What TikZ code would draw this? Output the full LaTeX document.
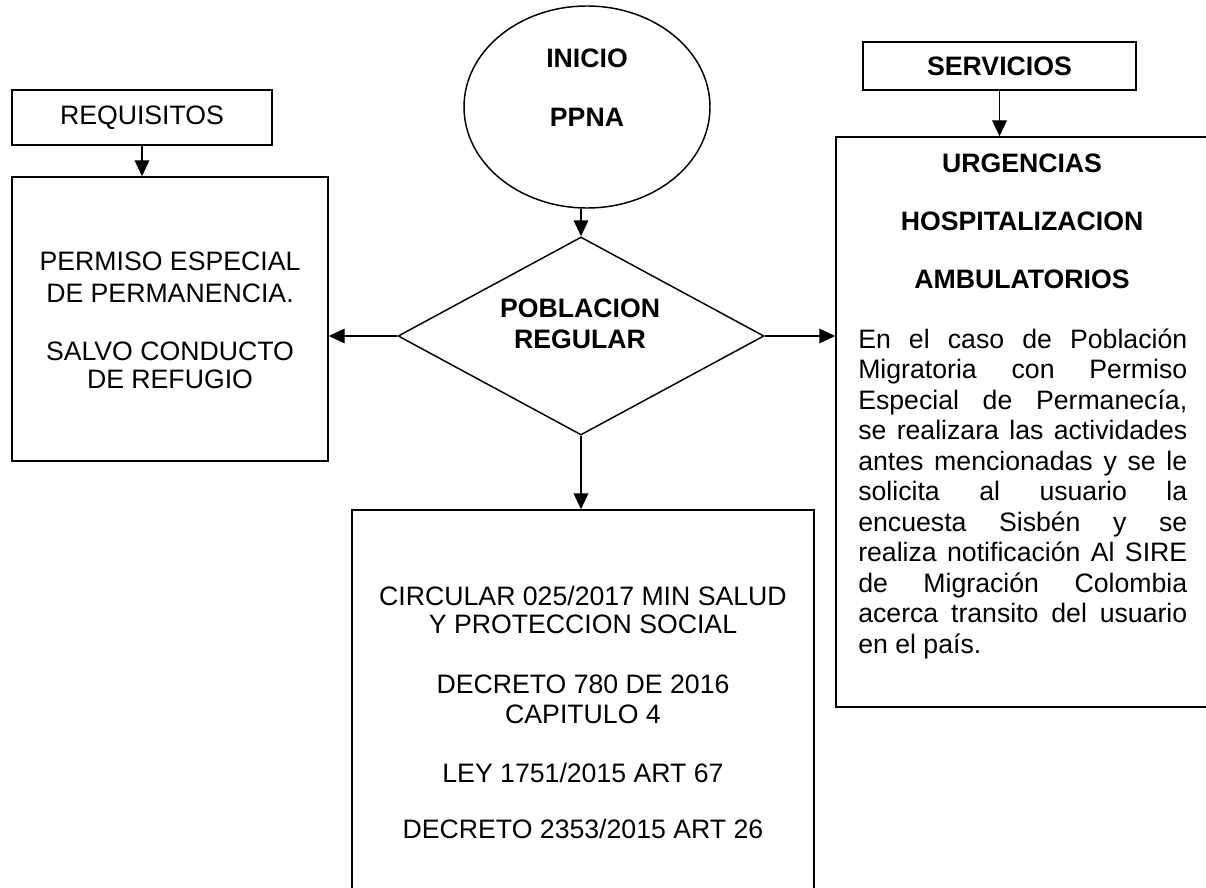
\documentclass[tikz,border=0pt]{standalone}
\usepackage{fontspec}
\setmainfont{Liberation Sans}
\usetikzlibrary{shapes.geometric,arrows.meta,fit}
\begin{document}
\begin{tikzpicture}[x=0.75pt,y=-0.75pt,
  every node/.style={font=\fontsize{20}{23}\selectfont},
  boxn/.style={draw, line width=1.1pt, inner sep=0pt, rectangle},
  txt/.style={inner sep=0pt, anchor=base},
  arr/.style={line width=1.1pt, -{Triangle[length=12pt,width=11pt]}}]
\useasboundingbox (0,0) rectangle (1206,888);
\clip (0,0) rectangle (1206,888);

% boxes
\coordinate (q1) at (12,90);   \coordinate (q2) at (272,145);
\node[boxn, fit=(q1)(q2)] (req) {};
\node[txt, anchor=center] (reqt) at (req.center) {REQUISITOS};

\coordinate (l1) at (12,177);  \coordinate (l2) at (328,461);
\node[boxn, fit=(l1)(l2)] (L) {};

\coordinate (s1) at (863,42);  \coordinate (s2) at (1136,90);
\node[boxn, fit=(s1)(s2)] (serv) {};
\node[txt, anchor=center, font=\fontsize{20}{23}\selectfont\bfseries] (servt) at (serv.center) {SERVICIOS};

\coordinate (r1) at (836,137); \coordinate (r2) at (1230,707);
\node[boxn, fit=(r1)(r2)] (R) {};

\coordinate (b1) at (352,510); \coordinate (b2) at (814,930);
\node[boxn, fit=(b1)(b2)] (B) {};

\node[draw, ellipse, line width=1.1pt, inner sep=0pt, minimum width=184.5pt, minimum height=151.5pt] (start) at (587,107) {};
\node[draw, diamond, line width=1.1pt, inner sep=0pt, minimum width=274.5pt, minimum height=148.5pt] (dia) at (581,336) {};

% texts
\node[txt, font=\fontsize{20}{23}\selectfont\bfseries] (ini1) at (587,68) {INICIO};
\node[txt, font=\fontsize{20}{23}\selectfont\bfseries] (ini2) at (587,127) {PPNA};
\node[txt, font=\fontsize{20}{23}\selectfont\bfseries] (dia1) at (580,317) {POBLACION};
\node[txt, font=\fontsize{20}{23}\selectfont\bfseries] (dia2) at (580,348) {REGULAR};

\node[txt] (lt1) at (170,270) {PERMISO ESPECIAL};
\node[txt] (lt2) at (170,302) {DE PERMANENCIA.};
\node[txt] (lt3) at (170,360) {SALVO CONDUCTO};
\node[txt] (lt4) at (170,388) {DE REFUGIO};

\node[txt] (bt1) at (583,605) {CIRCULAR 025/2017 MIN SALUD};
\node[txt] (bt2) at (583,633) {Y PROTECCION SOCIAL};
\node[txt] (bt3) at (583,693) {DECRETO 780 DE 2016};
\node[txt] (bt4) at (583,723) {CAPITULO 4};
\node[txt] (bt5) at (583,782) {LEY 1751/2015 ART 67};
\node[txt] (bt6) at (583,838) {DECRETO 2353/2015 ART 26};

\node[txt, font=\fontsize{20}{23}\selectfont\bfseries] (rt1) at (1022,173) {URGENCIAS};
\node[txt, font=\fontsize{20}{23}\selectfont\bfseries] (rt2) at (1022,230) {HOSPITALIZACION};
\node[txt, font=\fontsize{20}{23}\selectfont\bfseries] (rt3) at (1022,288) {AMBULATORIOS};

\foreach \t [count=\i] in {{En el caso de Población},{Migratoria con Permiso},{Especial de Permanecía,},{se realizara las actividades},{antes mencionadas y se le},{solicita al usuario la},{encuesta Sisbén y se},{realiza notificación Al SIRE},{de Migración Colombia},{acerca transito del usuario}}
  \node[inner sep=0pt, anchor=base west] (body\i) at (858,{317.5+30.5*\i}) {\makebox[246.75pt][s]{\t}};
\node[inner sep=0pt, anchor=base west] (body11) at (858,653) {en el país.};

% connectors
\draw[arr] (req.south) -- (req.south |- L.north);
\draw[arr] (serv.south) -- (serv.south |- R.north);
\draw[arr] (start.south -| dia.north) -- (dia.north);
\draw[arr] (dia.west) -- (dia.west -| L.east);
\draw[arr] (dia.east) -- (dia.east -| R.west);
\draw[arr] (dia.south) -- (dia.south |- B.north);
\end{tikzpicture}
\end{document}
